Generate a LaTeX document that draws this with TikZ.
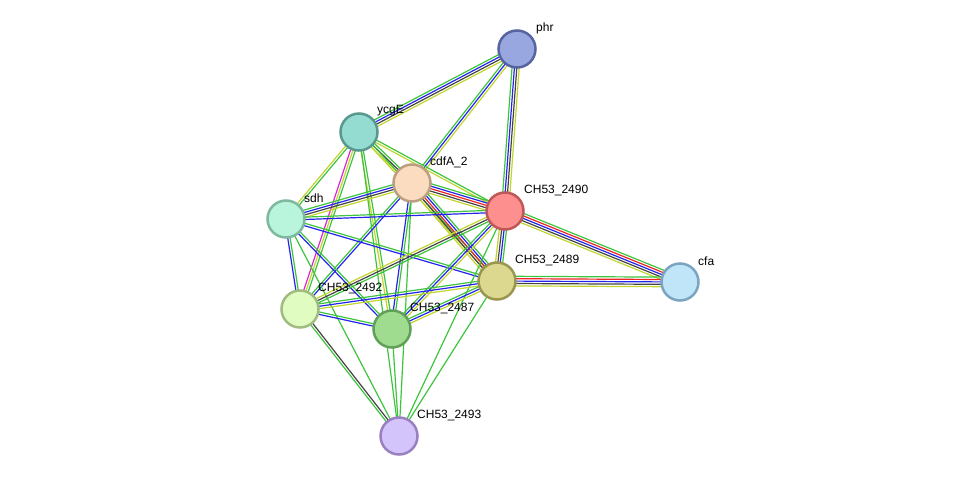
\documentclass[tikz,border=0pt]{standalone}
\usepackage{fontspec}
\setmainfont{Liberation Sans}
\usetikzlibrary{calc,backgrounds}
\definecolor{eg}{HTML}{3CC43C}
\definecolor{eb}{HTML}{2424EE}
\definecolor{ek}{HTML}{444444}
\definecolor{ey}{HTML}{C2D42E}
\definecolor{er}{HTML}{EE2424}
\definecolor{em}{HTML}{DD22DD}
\tikzset{
  prot/.style={circle, minimum size=37pt, inner sep=0pt, line width=2.5pt},
  lab/.style={anchor=west, inner sep=0pt, font=\fontsize{12}{14}\selectfont},
}
\newcommand\sedge[3]{%
  \foreach \c [count=\i] in {#3} {\xdef\nn{\i}}%
  \foreach \c [count=\i] in {#3} {%
    \pgfmathsetmacro\off{(\i-(\nn+1)/2)*2.4}%
    \draw[\c, line width=1.2pt] ($(#1)!\off pt!-90:(#2)$) -- ($(#2)!\off pt!90:(#1)$);
  }}
\begin{document}
\begin{tikzpicture}[x=1pt,y=-1pt]
\useasboundingbox (0,0) rectangle (975,482);
\node[prot, fill={rgb,255:red,153;green,167;blue,224}, draw={rgb,255:red,88;green,100;blue,160}] (phr) at (517,49) {};
\node[prot, fill={rgb,255:red,148;green,220;blue,210}, draw={rgb,255:red,90;green,152;blue,142}] (ycgE) at (359,132) {};
\node[prot, fill={rgb,255:red,252;green,220;blue,192}, draw={rgb,255:red,186;green,160;blue,128}] (cdfA) at (412,183) {};
\node[prot, fill={rgb,255:red,254;green,143;blue,143}, draw={rgb,255:red,190;green,88;blue,88}] (c2490) at (505,211) {};
\node[prot, fill={rgb,255:red,184;green,245;blue,220}, draw={rgb,255:red,126;green,184;blue,158}] (sdh) at (286,219) {};
\node[prot, fill={rgb,255:red,220;green,216;blue,144}, draw={rgb,255:red,154;green,150;blue,80}] (c2489) at (497,281) {};
\node[prot, fill={rgb,255:red,192;green,228;blue,248}, draw={rgb,255:red,122;green,164;blue,192}] (cfa) at (680,282) {};
\node[prot, fill={rgb,255:red,224;green,252;blue,192}, draw={rgb,255:red,160;green,188;blue,128}] (c2492) at (300,309) {};
\node[prot, fill={rgb,255:red,160;green,220;blue,144}, draw={rgb,255:red,96;green,160;blue,88}] (c2487) at (392,329) {};
\node[prot, fill={rgb,255:red,212;green,196;blue,252}, draw={rgb,255:red,154;green,128;blue,192}] (c2493) at (399,436) {};
\node[lab] (lphr) at (536,28) {phr};
\node[lab] (lycgE) at (377,111) {ycgE};
\node[lab] (lcdfA) at (430,162) {cdfA\_2};
\node[lab] (l2490) at (524,190) {CH53\_2490};
\node[lab] (lsdh) at (304,198) {sdh};
\node[lab] (l2489) at (515,260) {CH53\_2489};
\node[lab] (lcfa) at (698,261) {cfa};
\node[lab] (l2492) at (318,288) {CH53\_2492};
\node[lab] (l2487) at (410,308) {CH53\_2487};
\node[lab] (l2493) at (417,415) {CH53\_2493};
\begin{pgfonlayer}{background}
\sedge{ycgE}{phr}{eg,eb,ek,ey}
\sedge{cdfA}{phr}{eg,eb,ey}
\sedge{c2490}{phr}{eg,eb,ek,ey}
\sedge{ycgE}{cdfA}{eg,ek,ey}
\sedge{ycgE}{c2490}{eg,ey}
\sedge{ycgE}{c2489}{eg,ey}
\sedge{sdh}{ycgE}{ey,eg}
\sedge{ycgE}{c2492}{eg,ey,em}
\sedge{ycgE}{c2487}{eg,ey}
\sedge{ycgE}{c2493}{eg}
\sedge{sdh}{cdfA}{eg,eb,ek,ey}
\sedge{cdfA}{c2490}{eg,eb,er,ek,ey}
\sedge{cdfA}{c2489}{eg,eb,er,ek,ey}
\sedge{c2492}{cdfA}{eg,eb}
\sedge{cdfA}{c2487}{eg,eb}
\sedge{cdfA}{c2493}{eg}
\sedge{sdh}{c2490}{eg,eb}
\sedge{sdh}{c2489}{eg,eb}
\sedge{sdh}{c2492}{eg,eb}
\sedge{sdh}{c2487}{eg,eb}
\sedge{sdh}{c2493}{eg}
\sedge{c2490}{cfa}{eg,er,eb,ek,ey}
\sedge{c2489}{cfa}{eg,er,eb,ek,ey}
\sedge{c2490}{c2489}{eg,eb,ek,ey}
\sedge{c2492}{c2490}{ey,ek,eg}
\sedge{c2487}{c2490}{eg,eb,ey}
\sedge{c2490}{c2493}{eg}
\sedge{c2492}{c2489}{eg,eb,ey}
\sedge{c2487}{c2489}{eg,eb,ey}
\sedge{c2489}{c2493}{eg}
\sedge{c2492}{c2487}{eg,eb}
\sedge{c2492}{c2493}{ek,eg}
\sedge{c2487}{c2493}{eg}
\end{pgfonlayer}
\end{tikzpicture}
\end{document}
